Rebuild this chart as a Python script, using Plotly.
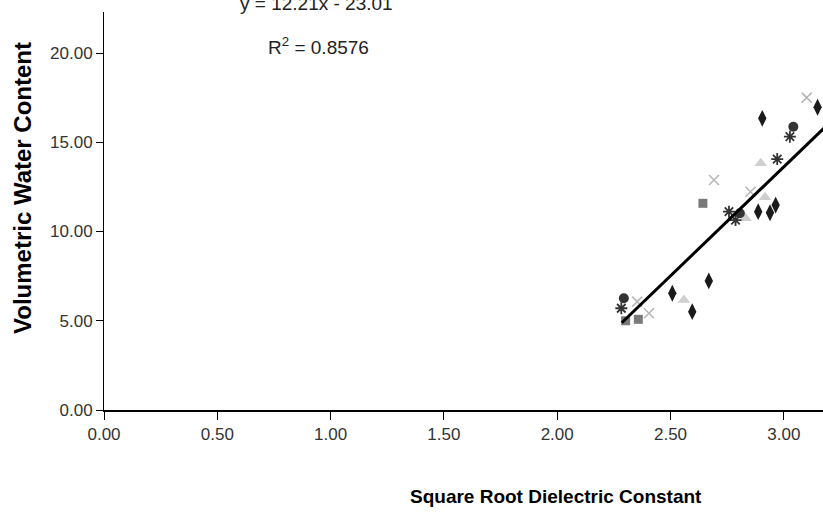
import plotly.graph_objects as go

# Data
diamond_x = [2.905, 3.149, 2.887, 2.939, 2.964, 2.669, 2.508, 2.596]
diamond_y = [16.34, 16.96, 11.11, 11.05, 11.48, 7.23, 6.54, 5.51]
square_x = [2.643, 2.302, 2.358]
square_y = [11.58, 5.00, 5.08]
triangle_x = [2.898, 2.917, 2.831, 2.559]
triangle_y = [13.82, 11.92, 10.74, 6.16]
cross_x = [2.692, 2.853, 2.353, 2.405, 3.101]
cross_y = [12.89, 12.23, 6.07, 5.42, 17.50]
star_x = [3.027, 2.971, 2.758, 2.787, 2.283]
star_y = [15.31, 14.06, 11.11, 10.64, 5.70]
circle_x = [3.042, 2.806, 2.294]
circle_y = [15.87, 11.02, 6.26]

slope = 12.21
intercept = -23.01
r_squared = 0.8576
trend_x = [2.285, 3.30]
trend_y = [slope * v + intercept for v in trend_x]

x_ticks = [0, 0.5, 1.0, 1.5, 2.0, 2.5, 3.0]
y_ticks = [0, 5, 10, 15, 20]

W, H = 823, 520
L, R, T, B = 104, 0, 12, 110
PW, PH = W - L - R, H - T - B
X_MAX = PW / 226.6
Y_MAX = PH / 17.85

def px(x):
    return (x - L) / PW

def py(y):
    return (H - B - y) / PH

FONT = "Liberation Sans, Arial, sans-serif"

fig = go.Figure()

def add_series(xs, ys, symbol, color, size, lw=0, lc=None):
    fig.add_trace(go.Scatter(
        x=xs, y=ys, mode="markers",
        marker=dict(symbol=symbol, color=color, size=size,
                    line=dict(width=lw, color=lc or color)),
        showlegend=False, hoverinfo="skip"))

add_series(triangle_x, triangle_y, "triangle-up", "#cfcfcf", 11)
add_series(cross_x, cross_y, "x-thin-open", "#b5b5b5", 10, 1.5, "#b5b5b5")
add_series(square_x, square_y, "square", "#7a7a7a", 9)
add_series(diamond_x, diamond_y, "diamond-tall", "#1a1a1a", 12)
add_series(star_x, star_y, "asterisk-open", "#333333", 10, 1.8, "#333333")
add_series(circle_x, circle_y, "circle", "#333333", 10)

fig.add_trace(go.Scatter(x=trend_x, y=trend_y, mode="lines",
                         line=dict(color="black", width=3),
                         showlegend=False, hoverinfo="skip"))

fig.update_xaxes(range=[0, X_MAX], tickvals=x_ticks, tickformat=".2f",
                 showgrid=False, zeroline=False, showline=True,
                 linecolor="black", linewidth=2, ticks="outside", ticklen=8,
                 tickcolor="black", tickwidth=1,
                 tickfont=dict(family=FONT, size=17, color="#333333"))
fig.update_yaxes(range=[0, Y_MAX], tickvals=y_ticks, tickformat=".2f",
                 showgrid=False, zeroline=False, showline=True,
                 linecolor="black", linewidth=1, ticks="outside", ticklen=7,
                 tickcolor="black", tickwidth=1,
                 tickfont=dict(family=FONT, size=17, color="#333333"))

fig.add_annotation(text="<b>Square Root Dielectric Constant</b>", xref="paper", yref="paper",
                   x=px(556), y=py(496), xanchor="center", yanchor="middle", showarrow=False,
                   font=dict(family=FONT, size=19, color="black"))
fig.add_annotation(text="<b>Volumetric Water Content</b>", xref="paper", yref="paper",
                   x=px(22), y=py(188), xanchor="center", yanchor="middle",
                   showarrow=False, textangle=-90,
                   font=dict(family=FONT, size=24, color="black"))
fig.add_annotation(text="R<sup>2</sup> = %.4f" % r_squared, xref="paper", yref="paper",
                   x=px(318), y=py(46), xanchor="center", yanchor="middle", showarrow=False,
                   font=dict(family=FONT, size=19, color="#222222"))
fig.add_annotation(text="y = %.2fx - %.2f" % (slope, -intercept), xref="paper", yref="paper",
                   x=px(316), y=py(16), xanchor="center", yanchor="bottom", showarrow=False,
                   font=dict(family=FONT, size=19, color="#222222"))

fig.update_layout(width=W, height=H, margin=dict(l=L, r=R, t=T, b=B),
                  paper_bgcolor="white", plot_bgcolor="white")

fig.write_html("out.html")
